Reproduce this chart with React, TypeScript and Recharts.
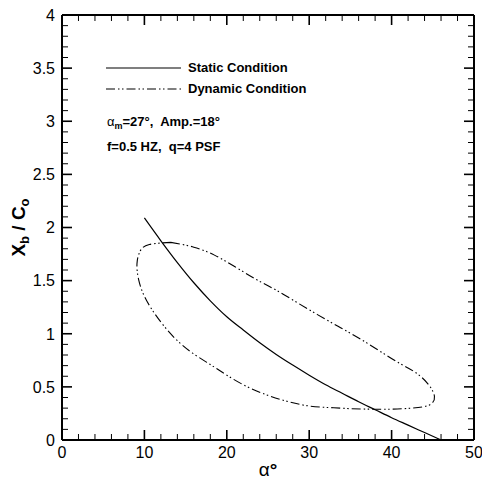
import React from 'react';
import { ComposedChart, Line, Scatter, XAxis, YAxis } from 'recharts';

// Static condition curve: alpha (deg) vs Xb/Co
const staticAlpha = [10, 12, 14, 16, 18, 20, 22, 24, 26, 28, 30, 32, 34, 36, 38, 40, 42, 44, 46];
const staticXb = [2.09, 1.875, 1.67, 1.48, 1.31, 1.16, 1.035, 0.915, 0.805, 0.705, 0.61, 0.52, 0.44, 0.36, 0.285, 0.21, 0.14, 0.07, 0.0];

// Dynamic condition loop (closed)
const dynAlpha = [13.2, 16, 18.5, 21, 23.6, 26, 28.5, 31, 33.5, 36, 38.5, 41, 43, 44.5, 45.2, 44.6, 42.5, 40, 37.5, 35, 32.5, 30, 27.5, 25, 22.5, 20, 18, 15.8, 13.8, 12.2, 10.9, 9.9, 9.3, 9.1, 9.5, 10.6, 13.2];
const dynXb = [1.86, 1.815, 1.74, 1.63, 1.51, 1.41, 1.295, 1.18, 1.07, 0.96, 0.84, 0.72, 0.63, 0.52, 0.41, 0.33, 0.3, 0.29, 0.29, 0.295, 0.305, 0.32, 0.36, 0.42, 0.5, 0.61, 0.71, 0.82, 0.95, 1.09, 1.23, 1.37, 1.51, 1.66, 1.78, 1.84, 1.86];

// tick positions (every minor tick; major ones get labels)
const xTicks = [0, 2, 4, 6, 8, 10, 12, 14, 16, 18, 20, 22, 24, 26, 28, 30, 32, 34, 36, 38, 40, 42, 44, 46, 48, 50];
const xMajorStep = 10;
const yTicks = Array.from({ length: 41 }, (_, i) => i / 10);
const yMajorStep = 0.5;
const X_DOMAIN = [0, 50];
const Y_DOMAIN = [0, 4];

const legendLabels = ['Static Condition', 'Dynamic Condition'];

const staticData = staticAlpha.map((a, i) => ({ a, xb: staticXb[i] }));
const dynData = dynAlpha.map((a, i) => ({ a, xb: dynXb[i] }));

const FONT = "'Liberation Sans', Arial, Helvetica, sans-serif";
const DASH = '9 3 1.5 2.5 1.5 3';
const MAJOR_LEN = 10;
const MINOR_LEN = 6;

const CHART_W = 482;
const CHART_H = 481;
const MARGIN = { top: 14, right: 7, bottom: 40, left: 61 };

const isMajor = (v: number, step: number) => Math.abs(v / step - Math.round(v / step)) < 1e-6;
const fmt = (v: number) => String(Math.round(v * 10) / 10);

// tick-mark anchor points on the four plot edges
const tickMarks = [
  ...xTicks.map((v) => ({ a: v, t: Y_DOMAIN[0], side: 'bottom', major: isMajor(v, xMajorStep) })),
  ...xTicks.map((v) => ({ a: v, t: Y_DOMAIN[1], side: 'top', major: isMajor(v, xMajorStep) })),
  ...yTicks.map((v) => ({ a: X_DOMAIN[0], t: v, side: 'left', major: isMajor(v, yMajorStep) })),
  ...yTicks.map((v) => ({ a: X_DOMAIN[1], t: v, side: 'right', major: isMajor(v, yMajorStep) })),
];

const tickVector = (side: string, major: boolean) => {
  const len = major ? MAJOR_LEN : MINOR_LEN;
  if (side === 'bottom') return [0, -len];
  if (side === 'top') return [0, len];
  if (side === 'left') return [len, 0];
  return [-len, 0];
};

const TickMark = (p: any) => {
  const { cx, cy, payload } = p;
  if (cx == null || cy == null || !payload) return <g />;
  const [dx, dy] = tickVector(payload.side, payload.major);
  return (
    <line x1={cx} y1={cy} x2={cx + dx} y2={cy + dy} stroke="#000" strokeWidth={payload.major ? 1.6 : 1} />
  );
};

const BottomTick = (p: any) => {
  const { x, y, payload } = p;
  const v = payload.value;
  if (!isMajor(v, xMajorStep)) return <g />;
  return (
    <text x={x} y={y + 17.5} textAnchor="middle" fontFamily={FONT} fontSize={16} fill="#000">
      {fmt(v)}
    </text>
  );
};

const LeftTick = (p: any) => {
  const { x, y, payload } = p;
  const v = payload.value;
  if (!isMajor(v, yMajorStep)) return <g />;
  return (
    <text x={x - 7} y={y} dy="0.36em" textAnchor="end" fontFamily={FONT} fontSize={16} fill="#000">
      {fmt(v)}
    </text>
  );
};

const XLabel = (props: any) => {
  const vb = props.viewBox || { x: 0, y: 0, width: 0 };
  const cx = vb.x + vb.width / 2;
  return (
    <text x={cx} y={vb.y + 36} textAnchor="middle" fontFamily={FONT} fontSize={19} fill="#000">
      α<tspan fontWeight="bold">°</tspan>
    </text>
  );
};

const YLabel = (props: any) => {
  const vb = props.viewBox || { x: 0, y: 0, height: 0 };
  const bx = vb.x - 36;
  const cy = vb.y + vb.height / 2;
  return (
    <text
      transform={`translate(${bx},${cy}) rotate(-90)`}
      textAnchor="middle"
      fontFamily={FONT}
      fontSize={19}
      fontWeight="bold"
      fill="#000"
    >
      X<tspan fontSize={13} dy={4}>b</tspan>
      <tspan dy={-4}> / C</tspan>
      <tspan fontSize={13} dy={4}>o</tspan>
    </text>
  );
};

const axisStroke = { stroke: '#000', strokeWidth: 2 };

const textBox = {
  position: 'absolute' as const,
  lineHeight: '16px',
  fontFamily: FONT,
  fontWeight: 'bold' as const,
  fontSize: 13,
  color: '#000',
  whiteSpace: 'pre' as const,
};

export default function App() {
  return (
    <div style={{ position: 'relative', width: CHART_W, height: CHART_H }}>
      <style>{'html,body{margin:0;padding:0;overflow:hidden;}'}</style>
      <ComposedChart width={CHART_W} height={CHART_H} margin={MARGIN}>
        <XAxis
          xAxisId="b"
          type="number"
          dataKey="a"
          domain={X_DOMAIN}
          ticks={xTicks}
          interval={0}
          height={1}
          tickSize={0}
          tickMargin={0}
          tickLine={false}
          tick={BottomTick}
          axisLine={axisStroke}
          label={<XLabel />}
        />
        <XAxis
          xAxisId="t"
          orientation="top"
          type="number"
          dataKey="a"
          domain={X_DOMAIN}
          ticks={xTicks}
          interval={0}
          height={1}
          tick={false}
          tickLine={false}
          axisLine={axisStroke}
        />
        <YAxis
          yAxisId="l"
          type="number"
          domain={Y_DOMAIN}
          ticks={yTicks}
          interval={0}
          width={1}
          tickSize={0}
          tickMargin={0}
          tickLine={false}
          tick={LeftTick}
          axisLine={axisStroke}
          label={<YLabel />}
        />
        <YAxis
          yAxisId="r"
          orientation="right"
          type="number"
          domain={Y_DOMAIN}
          ticks={yTicks}
          interval={0}
          width={1}
          tick={false}
          tickLine={false}
          axisLine={axisStroke}
        />
        <Scatter
          xAxisId="b"
          yAxisId="l"
          data={tickMarks}
          dataKey="t"
          shape={TickMark}
          isAnimationActive={false}
        />
        <Line
          xAxisId="b"
          yAxisId="l"
          data={staticData}
          dataKey="xb"
          type="monotone"
          stroke="#000"
          strokeWidth={1.2}
          dot={false}
          activeDot={false}
          isAnimationActive={false}
        />
        <Line
          xAxisId="b"
          yAxisId="l"
          data={dynData}
          dataKey="xb"
          type="natural"
          stroke="#000"
          strokeWidth={1.1}
          strokeDasharray={DASH}
          dot={false}
          activeDot={false}
          isAnimationActive={false}
        />
      </ComposedChart>

      {legendLabels.map((lab, i) => (
        <div
          key={lab}
          style={{
            ...textBox,
            left: 106,
            top: 60 + i * 21,
            height: 16,
            display: 'flex',
            alignItems: 'center',
          }}
        >
          <svg width={75} height={16} style={{ marginRight: 7 }}>
            <line
              x1={0}
              x2={75}
              y1={8}
              y2={8}
              stroke="#000"
              strokeWidth={1.2}
              strokeDasharray={i === 1 ? DASH : undefined}
            />
          </svg>
          {lab}
        </div>
      ))}

      <div style={{ ...textBox, left: 107, top: 114 }}>
        <span style={{ fontWeight: 'normal' }}>α</span>
        <sub style={{ fontSize: 9, verticalAlign: '-3px' }}>m</sub>
        {'=27°,  Amp.=18°'}
      </div>
      <div style={{ ...textBox, left: 107, top: 139 }}>{'f=0.5 HZ,  q=4 PSF'}</div>
    </div>
  );
}
